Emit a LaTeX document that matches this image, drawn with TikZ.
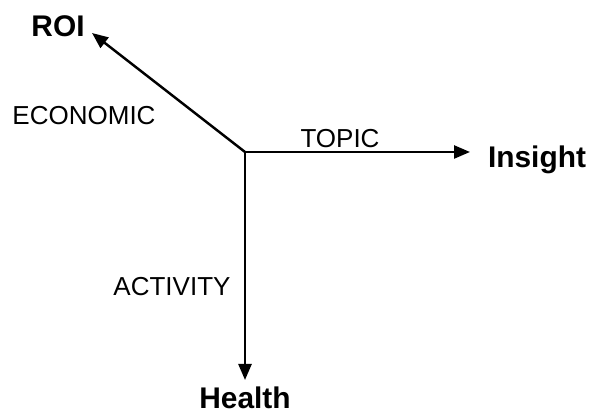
\documentclass[tikz,border=0pt]{standalone}
\usepackage{fontspec}
\setmainfont{Liberation Sans}
\usetikzlibrary{arrows.meta,positioning}
\tikzset{
  axis/.style={-{Triangle[length=0.32cm,width=0.26cm]},line width=1.4pt},
  dim/.style={font=\fontsize{14.8}{16}\selectfont},
  goal/.style={font=\fontsize{17}{19}\selectfont\bfseries}
}
\begin{document}
\begin{tikzpicture}
  \useasboundingbox (0,0) rectangle (11.84,8.32);
  % --- axes ---
  \coordinate (O) at (4.9,5.28);
  \coordinate (roitip) at (1.84,7.66);
  \coordinate (insighttip) at (9.4,5.28);
  \coordinate (healthtip) at (4.9,0.72);
  \draw[axis] (O) -- (roitip);
  \draw[axis] (O) -- (insighttip);
  \draw[axis] (O) -- (healthtip);

  % --- end labels ---
  \node[goal] (roi) at (1.16,7.8) {ROI};
  \node[goal] (insight) at (10.74,5.12) {Insight};
  \node[goal] (health) at (4.9,0.36) {Health};

  % --- axis names ---
  \node[dim] (economic) at (1.68,6.0) {ECONOMIC};
  \node[dim] (topic) at (6.8,5.54) {TOPIC};
  \node[dim] (activity) at (3.44,2.58) {ACTIVITY};
\end{tikzpicture}
\end{document}
